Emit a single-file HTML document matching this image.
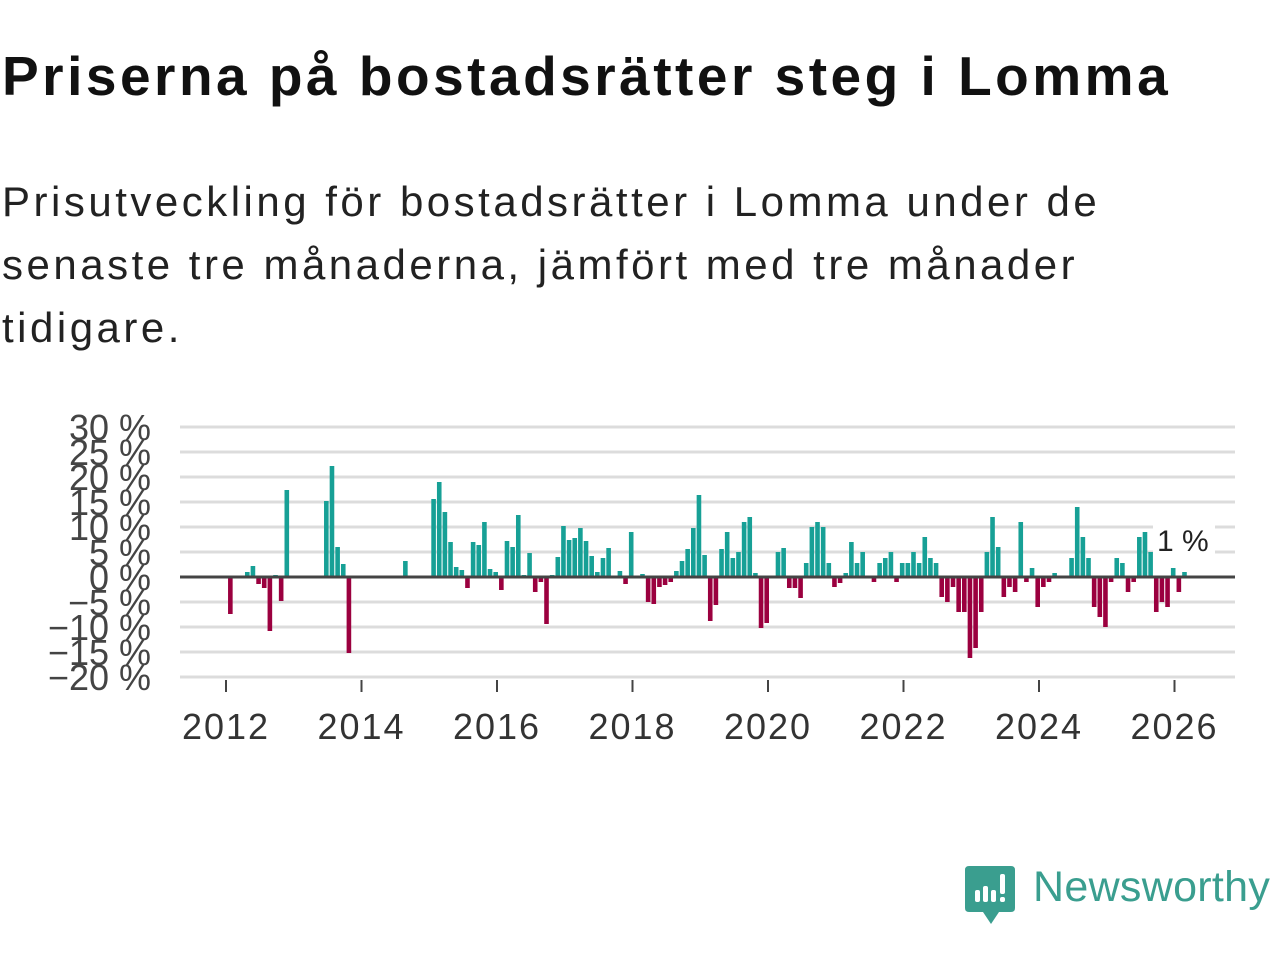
<!DOCTYPE html>
<html><head><meta charset="utf-8"><style>
html,body{margin:0;padding:0;background:#fff;width:1280px;height:960px;overflow:hidden;font-family:"Liberation Sans","DejaVu Sans",sans-serif;}
h1{position:absolute;left:2px;top:44px;margin:0;font-size:55px;font-weight:bold;color:#111;letter-spacing:3.5px;white-space:nowrap;}
.sub{position:absolute;left:2px;top:170px;margin:0;font-size:42px;line-height:63px;color:#222;width:1260px;letter-spacing:3.5px;}
svg{position:absolute;left:0;top:0;}
</style></head><body>
<h1>Priserna på bostadsrätter steg i Lomma</h1>
<p class="sub">Prisutveckling för bostadsrätter i Lomma under de<br>senaste tre månaderna, jämfört med tre månader<br>tidigare.</p>
<svg id="chart" width="1280" height="960"></svg>
<div style="position:absolute;left:965px;top:866px;">
<svg width="52" height="60" viewBox="0 0 52 60" style="position:absolute;left:0;top:0;"><path d="M4 0H46Q50 0 50 4V42Q50 46 46 46H34L26 58L18 46H4Q0 46 0 42V4Q0 0 4 0Z" fill="#3a9e8f"/><rect x="10" y="24" width="5" height="12" rx="2" fill="#fff"/><rect x="18" y="20" width="5" height="16" rx="2" fill="#fff"/><rect x="26" y="24" width="5" height="12" rx="2" fill="#fff"/><rect x="35" y="8" width="5" height="20" rx="2" fill="#fff"/><rect x="35" y="31" width="5" height="5" rx="2" fill="#fff"/></svg>
<span style="position:absolute;left:68px;top:-3px;font-size:43px;color:#3a9e8f;white-space:nowrap;letter-spacing:0.3px;">Newsworthy</span>
</div>
<script>
const monthIdx=[1,4,5,6,7,8,9,10,11,18,19,20,21,22,32,37,38,39,40,41,42,43,44,45,46,47,48,49,50,51,52,53,54,55,56,57,58,59,60,61,62,63,64,65,66,67,68,70,71,72,74,75,76,77,78,79,80,81,82,83,84,85,86,87,88,89,90,91,92,93,94,95,96,98,99,100,101,102,103,104,105,106,107,108,109,110,111,112,113,115,116,117,118,119,120,121,122,123,124,125,126,127,128,129,130,131,132,133,134,135,136,137,138,139,140,141,142,143,144,145,146,147,150,151,152,153,154,155,156,157,158,159,160,161,162,163,164,165,166,167,168,169,170];
const values=[-7.4,1,2.2,-1.4,-2.2,-10.8,0.4,-4.8,17.4,15.2,22.2,6,2.6,-15.2,3.2,15.6,19,13,7,2,1.4,-2.2,7,6.4,11,1.6,1,-2.6,7.2,6,12.4,0.4,4.8,-3,-1,-9.4,0.4,4,10.2,7.4,7.8,9.8,7.2,4.2,1,3.8,5.8,1.2,-1.4,9,0.6,-5,-5.4,-2,-1.6,-1,1.2,3.2,5.6,9.8,16.4,4.4,-8.8,-5.6,5.6,9,3.8,5,11,12,0.8,-10.2,-9.2,5,5.8,-2.2,-2.2,-4.2,2.8,10,11,10,2.8,-2,-1.2,0.8,7,2.8,5,-1,2.8,3.8,5,-1,2.8,2.8,5,2.8,8,3.8,2.8,-4,-5,-2,-7,-7,-16.2,-14.2,-7,5,12,6,-4,-2,-3,11,-1,1.8,-6,-2,-1,0.8,3.8,14,8,3.8,-6,-8,-10,-1,3.8,2.8,-3,-1,8,9,5,-7,-5,-6,1.8,-3,1];
const yTicks=[30,25,20,15,10,5,0,-5,-10,-15,-20];
const xYears=[2012,2014,2016,2018,2020,2022,2024,2026];
const lastLabel="1 %";
const NS="http://www.w3.org/2000/svg";
const svg=document.getElementById('chart');
function y(v){return 577-v*5;}
function x(m){return 226+m*(135.5/24);}
function xYear(yr){return x((yr-2012)*12);}
function mk(t,a){const e=document.createElementNS(NS,t);for(const k in a)e.setAttribute(k,a[k]);svg.appendChild(e);return e;}
yTicks.forEach(t=>{
 if(t!==0){const g=mk('line',{x1:180,x2:1235,y1:y(t),y2:y(t),stroke:'#dcdcdc','stroke-width':3});
 
 }
 const tx=mk('text',{x:151,y:y(t)+13,'text-anchor':'end','font-size':36,fill:'#444','font-family':'Liberation Sans, sans-serif'});
 tx.textContent=(t<0?'\u2212'+(-t):t)+' %';
 
 
});
xYears.forEach(yr=>{
 const l=mk('line',{x1:xYear(yr),x2:xYear(yr),y1:680,y2:692,stroke:'#444','stroke-width':2});
 
 
 const t=mk('text',{x:xYear(yr),y:739,'text-anchor':'middle','font-size':36,'letter-spacing':2,fill:'#333','font-family':'Liberation Sans, sans-serif'});
 t.textContent=yr;
 
 
});
monthIdx.forEach((m,i)=>{
 const v=values[i];
 const r=mk('rect',{x:x(m)-3.6,width:4.6,y:Math.min(y(v),577),height:Math.abs(v*5),fill:v>=0?'#17a096':'#9b003f'});
 
 
});
const z=mk('line',{x1:180,x2:1235,y1:577,y2:577,stroke:'#444','stroke-width':3});


const bg=mk('rect',{x:1153,y:522,width:62,height:34,fill:'#fff'});


const lv=mk('text',{x:1157,y:551,'font-size':30,fill:'#222','font-family':'Liberation Sans, sans-serif'});
lv.textContent=lastLabel;


</script>
</body></html>
